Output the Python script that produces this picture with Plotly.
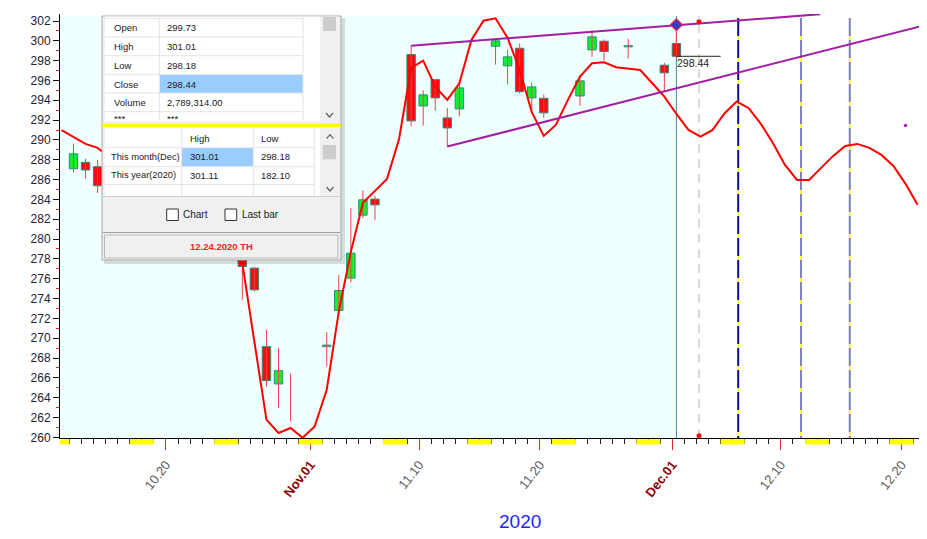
import plotly.graph_objects as go
import pandas as pd

# ---------------- data ----------------
candle_dates = ["2020-10-12", "2020-10-13", "2020-10-14", "2020-10-26", "2020-10-27",
                "2020-10-28", "2020-10-29", "2020-10-30", "2020-11-02", "2020-11-03",
                "2020-11-04", "2020-11-05", "2020-11-06", "2020-11-09", "2020-11-10",
                "2020-11-11", "2020-11-12", "2020-11-13", "2020-11-16", "2020-11-17",
                "2020-11-18", "2020-11-19", "2020-11-20", "2020-11-23", "2020-11-24",
                "2020-11-25", "2020-11-27", "2020-11-30", "2020-12-01"]
opens = [287.10, 287.74, 287.30, 279.00, 277.07, 269.15, 265.38, None, 269.15, 272.80,
         276.06, 282.41, 284.03, 298.62, 293.43, 296.09, 292.22, 293.13, 299.45, 297.47,
         299.25, 294.24, 294.20, 294.44, 299.09, 299.96, 299.39, 297.54, 299.73]
highs = [289.63, 288.10, 287.98, 279.60, 277.20, 270.84, 269.00, 266.42, 270.62, 276.40,
         283.12, 284.90, 284.36, 299.51, 295.01, 296.15, 293.23, 295.86, 300.13, 299.12,
         299.73, 295.76, 294.58, 296.50, 301.07, 300.13, 300.20, 297.78, 301.01]
lows = [286.73, 286.09, 284.65, 273.88, 274.70, 265.10, 262.96, 261.61, 267.15, 272.36,
        275.62, 282.11, 281.94, 291.37, 291.44, 292.96, 289.33, 292.38, 297.60, 295.59,
        294.68, 292.89, 292.22, 293.46, 298.38, 298.01, 298.18, 294.91, 298.18]
closes = [288.60, 286.97, 285.38, 277.23, 274.88, 265.72, 266.72, None, 269.30, 274.81,
          278.58, 283.96, 283.45, 291.92, 294.55, 294.24, 291.21, 295.25, 300.00, 298.38,
          294.88, 295.35, 292.73, 295.96, 300.40, 298.92, 299.39, 296.77, 298.44]

curve_dates_a = ["2020-10-11", "2020-10-12", "2020-10-13", "2020-10-14"]
curve_vals_a = [290.98, 290.31, 289.60, 289.20]
curve_dates_b = [d.strftime("%Y-%m-%d") for d in pd.date_range("2020-10-26", "2020-12-21")]
curve_vals_b = [277.57, 269.64, 261.78, 260.44, 260.94, 259.95,
                261.10, 264.80, 272.67, 278.71, 283.65, 284.86, 286.07, 290.10, 297.26, 298.00,
                295.38, 294.04, 295.72, 300.08, 302.03, 302.27, 300.29, 297.06, 292.83, 290.41,
                291.52, 294.04, 296.39, 297.74, 297.84, 297.33, 297.23, 297.06, 295.72, 294.37,
                292.62, 291.01, 290.34, 291.01, 292.70, 293.87, 293.20, 291.62, 289.70, 287.48,
                285.97, 285.97, 287.18, 288.39, 289.40, 289.60, 289.20, 288.49, 287.38, 285.57,
                283.45]

upper_trend_x = ["2020-11-09", "2020-12-12 22:00"]
upper_trend_y = [299.51, 302.69]
lower_trend_x = ["2020-11-12", "2020-12-22"]
lower_trend_y = [289.33, 301.70]

tick_dates = ["2020-10-20", "2020-11-01", "2020-11-10", "2020-11-20", "2020-12-01", "2020-12-10", "2020-12-20"]
tick_labels = ["10.20", "Nov.01", "11.10", "11.20", "Dec.01", "12.10", "12.20"]
month_ticks = ["Nov.01", "Dec.01"]

last_date = "2020-12-01"
last_close = 298.44
marker_date = "2020-12-02 21:00"
future_lines_dark = ["2020-12-06 03:00"]
future_lines_light = ["2020-12-11 08:00", "2020-12-15 09:00"]
diamond_y = 301.62
top_dot_y = 301.93
bottom_dot_y = 260.16
purple_dot_x = "2020-12-20"
purple_dot_y = 291.45

info_rows = [("Open", "299.73"), ("High", "301.01"), ("Low", "298.18"),
             ("Close", "298.44"), ("Volume", "2,789,314.00"), ("***", "***")]
range_rows = [("This month(Dec)", "301.01", "298.18"), ("This year(2020)", "301.11", "182.10")]
status_text = "12.24.2020 TH"
year_text = "2020"

# ---------------- geometry ----------------
# the page body adds an 8px margin, so the figure is laid out 8px smaller/offset
OFF = 8
W, H = 927 - OFF, 539 - OFF
L, R, T, B = 60, 927, 14, 438          # target plot box in window pixels
x_range = [pd.Timestamp("2020-10-10 21:07"), pd.Timestamp("2020-12-21 18:44")]
y_range = [259.93, 302.706]
tick_shift = pd.Timedelta(hours=8)


def PX(px):
    return (px - L) / (R - L)


def PY(py):
    return (B - py) / (B - T)


fig = go.Figure()
shapes = []
annots = []

# light cyan background for historic part
shapes.append(dict(type="rect", xref="x", yref="paper", x0=x_range[0], x1=last_date, y0=0, y1=PY(16),
                   fillcolor="#f0ffff", line=dict(width=0), layer="below"))
# vertical lines
shapes.append(dict(type="line", xref="x", yref="paper", x0=last_date, x1=last_date, y0=0, y1=PY(16),
                   line=dict(color="#3f8f8f", width=1), layer="below"))
shapes.append(dict(type="line", xref="x", yref="paper", x0=marker_date, x1=marker_date, y0=0, y1=PY(16),
                   line=dict(color="#b4b4b4", width=1, dash="9px,6px"), layer="below"))
for xs, col in ((future_lines_dark, "#10109a"), (future_lines_light, "#8080c4")):
    for xv in xs:
        shapes.append(dict(type="line", xref="x", yref="paper", x0=xv, x1=xv, y0=0, y1=PY(18),
                           line=dict(color="#ffff00", width=1.5), layer="below"))
        shapes.append(dict(type="line", xref="x", yref="paper", x0=xv, x1=xv, y0=PY(18), y1=0,
                           line=dict(color=col, width=2, dash="18px,4px"), layer="below"))

# weekend marks on the x axis
for sat in pd.date_range("2020-10-10", "2020-12-19", freq="7D"):
    a = max(sat - tick_shift, x_range[0])
    b = sat + pd.Timedelta(days=2) - tick_shift
    shapes.append(dict(type="rect", xref="x", yref="paper", x0=a, x1=b, y0=PY(444.5), y1=PY(439.3),
                       fillcolor="#ffff00", line=dict(width=0), layer="above"))

# wicks
wx, wy = [], []
for d, hi, lo in zip(candle_dates, highs, lows):
    wx += [d, d, None]
    wy += [lo, hi, None]
fig.add_trace(go.Scatter(x=wx, y=wy, mode="lines", line=dict(color="#ee4444", width=1),
                         hoverinfo="skip"))

# bodies
bx, bbase, bh, bcol = [], [], [], []
for d, o, c in zip(candle_dates, opens, closes):
    if o is None or c is None:
        continue
    bx.append(d)
    bbase.append(min(o, c))
    bh.append(max(abs(c - o), 0.12))
    bcol.append("#12f02a" if c >= o else "#ff0a0a")
fig.add_trace(go.Bar(x=bx, y=bh, base=bbase, width=0.7 * 86400000,
                     marker=dict(color=bcol, line=dict(color="#2a8a8a", width=1)), hoverinfo="skip"))

# smooth red curve (its hidden middle part lies under the info panel)
fig.add_trace(go.Scatter(x=curve_dates_a + curve_dates_b, y=curve_vals_a + curve_vals_b,
                         mode="lines", line=dict(color="#ff0000", width=2), hoverinfo="skip"))
# trend lines
fig.add_trace(go.Scatter(x=upper_trend_x, y=upper_trend_y, mode="lines",
                         line=dict(color="#a31ea3", width=2), hoverinfo="skip"))
fig.add_trace(go.Scatter(x=lower_trend_x, y=lower_trend_y, mode="lines",
                         line=dict(color="#a31ea3", width=2), hoverinfo="skip"))

# last close marker line + label
shapes.append(dict(type="line", xref="x", yref="y", x0=last_date, x1="2020-12-04 16:00",
                   y0=last_close, y1=last_close, line=dict(color="#222222", width=1), layer="above"))
annots.append(dict(x=last_date, y=last_close, xref="x", yref="y", text=f"{last_close:.2f}",
                   showarrow=False, xanchor="left", yanchor="top", xshift=-1, yshift=1,
                   font=dict(family="Liberation Sans, Arial", size=10.5, color="#222222")))

# markers
fig.add_trace(go.Scatter(x=[last_date], y=[diamond_y], mode="markers", cliponaxis=False,
                         marker=dict(symbol="diamond", size=9, color="#3a3ad0",
                                     line=dict(color="#e02040", width=1.2)), hoverinfo="skip"))
fig.add_trace(go.Scatter(x=[marker_date, marker_date], y=[top_dot_y, bottom_dot_y], mode="markers",
                         cliponaxis=False, marker=dict(size=5, color="#ee1111"), hoverinfo="skip"))
fig.add_trace(go.Scatter(x=[purple_dot_x], y=[purple_dot_y], mode="markers",
                         marker=dict(size=3.5, color="#a31ea3"), hoverinfo="skip"))


# ---------------- info panel ----------------
def rect(x0, y0, x1, y1, fill, line=None, lw=1):
    shapes.append(dict(type="rect", xref="paper", yref="paper", x0=PX(x0), x1=PX(x1),
                       y0=PY(y1), y1=PY(y0), fillcolor=fill,
                       line=dict(color=line if line else fill, width=lw if line else 0),
                       layer="above"))


def seg(x0, y0, x1, y1, color, w=1):
    shapes.append(dict(type="line", xref="paper", yref="paper", x0=PX(x0), x1=PX(x1),
                       y0=PY(y0), y1=PY(y1), line=dict(color=color, width=w), layer="above"))


def chevron(cx, cy, up=False):
    s = -1 if up else 1
    path = (f"M {PX(cx - 3.5)},{PY(cy - 2 * s)} L {PX(cx)},{PY(cy + 2 * s)} "
            f"L {PX(cx + 3.5)},{PY(cy - 2 * s)}")
    shapes.append(dict(type="path", xref="paper", yref="paper", path=path,
                       line=dict(color="#606060", width=1.2), layer="above"))


def label(px, py, text, color="#1a1a1a", size=9.5, anchor="left", bold=False):
    if bold:
        text = f"<b>{text}</b>"
    annots.append(dict(x=PX(px), y=PY(py), xref="paper", yref="paper", text=text,
                       showarrow=False, xanchor=anchor, yanchor="middle",
                       font=dict(family="Liberation Sans, Arial", size=size, color=color)))


rect(104, 18, 345, 264, "rgba(0,0,0,0.13)")
rect(102, 16, 341, 260, "#f0f0f0", "#a8a8a8")
# table 1
rect(105, 16.5, 320, 121, "#ffffff")
rect(320, 16.5, 338, 121, "#f0f0f0")
rect(323, 17, 336, 31, "#cdcdcd")
chevron(329.5, 115)
rect(160, 75, 303, 93, "#99ccff")
for yy in (18.3, 37, 55.7, 74.3, 93, 111.7):
    seg(105, yy, 303, yy, "#e4e4e4")
seg(159.3, 16.5, 159.3, 121, "#e4e4e4")
seg(303, 16.5, 303, 121, "#e4e4e4")
row_y = [27.7, 46.5, 65.2, 84, 102.3, 119]
for (nm, val), yy in zip(info_rows, row_y):
    label(111.5, yy, nm)
    label(165, yy, val)
# yellow separator
rect(102, 123.5, 341, 127, "#ffff00")
# table 2
rect(105, 128, 320, 196, "#ffffff")
rect(320, 128, 338, 196, "#f0f0f0")
rect(322.7, 145, 336, 159.3, "#cdcdcd")
chevron(330, 136.7, up=True)
chevron(330, 189)
rect(182, 148, 253.3, 166.5, "#99ccff")
for yy in (147.7, 166.7, 184.5):
    seg(105, yy, 314, yy, "#e4e4e4")
for xx in (181.7, 253.3, 314.3):
    seg(xx, 128, xx, 196, "#e4e4e4")
label(187.7, 138, "High")
label(259.3, 138, "Low")
for (nm, hi, lo), yy in zip(range_rows, [156.8, 175.2]):
    label(108.5, yy, nm, size=9.3)
    label(187.7, yy, hi)
    label(259.3, yy, lo)
seg(103, 196.5, 340, 196.5, "#d0d0d0")
# checkboxes
rect(166.7, 209, 178.3, 220.5, "#ffffff", "#333333")
rect(225, 209, 236.7, 220.5, "#ffffff", "#333333")
label(181, 214.8, "Chart", size=10)
label(239.5, 214.8, "Last bar", size=10)
# status box
seg(103, 232.5, 340, 232.5, "#a0a0a0")
rect(104.5, 235, 338, 258, "#f0f0f0", "#b8b8b8")
label(221.5, 246.7, status_text, color="#ff2020", size=9.5, anchor="center", bold=True)

# year caption
annots.append(dict(x=PX(520), y=PY(521), xref="paper", yref="paper", text=year_text,
                   showarrow=False, xanchor="center", yanchor="middle",
                   font=dict(family="Liberation Sans, Arial", size=19, color="#2323ff")))

# ---------------- axes ----------------
tickvals = [pd.Timestamp(d) - tick_shift for d in tick_dates]
ticktext = []
for t in tick_labels:
    if t in month_ticks:
        ticktext.append(f"<b><span style='color:#8b0000'>{t}</span></b>")
    else:
        ticktext.append(t)

fig.update_layout(
    width=W, height=H,
    margin=dict(l=L - OFF, r=0, t=T - OFF, b=(H + OFF) - B),
    paper_bgcolor="#ffffff", plot_bgcolor="#ffffff",
    showlegend=False, hovermode=False,
    shapes=shapes, annotations=annots,
    xaxis=dict(type="date", range=x_range, tickmode="array", tickvals=tickvals, ticktext=ticktext,
               tickangle=-52, ticks="outside", ticklen=11, tickcolor="#e02828", tickwidth=1,
               ticklabelstandoff=2,
               showgrid=False, zeroline=False, showline=True, linecolor="#000000", linewidth=1,
               tickfont=dict(family="Liberation Sans, Arial", size=13, color="#5a5a5a"),
               minor=dict(tickmode="linear", tick0=pd.Timestamp("2020-10-10") - tick_shift,
                          dtick=86400000, ticks="outside", ticklen=5, tickcolor="#222222",
                          showgrid=False),
               fixedrange=True),
    yaxis=dict(range=y_range, tickmode="linear", tick0=260, dtick=2, ticks="outside", ticklen=6,
               tickcolor="#111111", showgrid=False, zeroline=False, showline=True,
               linecolor="#000000", linewidth=1,
               tickfont=dict(family="Liberation Sans, Arial", size=12, color="#222233"),
               minor=dict(tickmode="linear", tick0=261, dtick=2, ticks="outside", ticklen=3,
                          tickcolor="#e02020", showgrid=False),
               fixedrange=True),
)

fig.write_html("out.html")
